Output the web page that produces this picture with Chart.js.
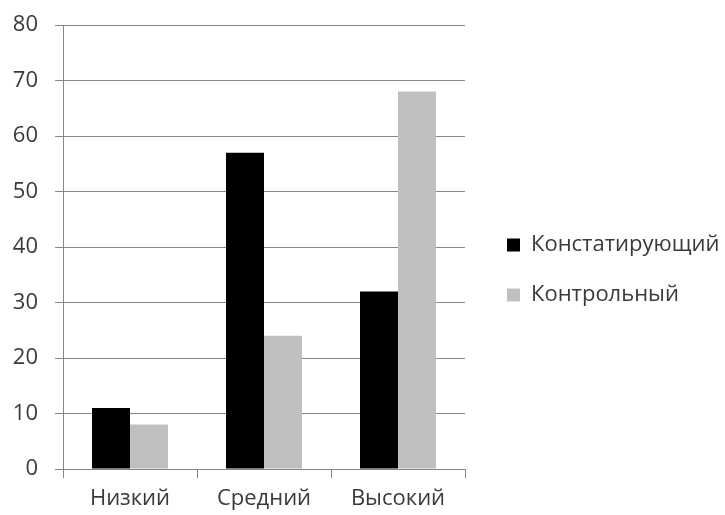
<!DOCTYPE html>
<html lang="ru">
<head>
    <meta charset="UTF-8">
    <title>Chart</title>
    <script src="https://cdn.jsdelivr.net/npm/chart.js"></script>
    <style>
        html, body {
            margin: 0;
            padding: 0;
            background: #ffffff;
        }
        .wrap {
            width: 725px;
            height: 515px;
        }
    </style>
</head>
<body>
    <div class="wrap">
        <canvas id="chart"></canvas>
    </div>

    <script>
        const categories = ['Низкий', 'Средний', 'Высокий'];
        const seriesNames = ['Констатирующий', 'Контрольный'];
        const stating = [11, 57, 32];
        const control = [8, 24, 68];
        const yTicks = [0, 10, 20, 30, 40, 50, 60, 70, 80];

        const font = { family: "'Open Sans', sans-serif", size: 22 };
        const gridColor = '#868686';
        const textColor = '#3a3a3a';

        // Chart.js caps a side legend at a quarter of the width here, which
        // cuts the long label off. Give it a fixed width and push the items right.
        const legendWidth = 260;
        const legendShift = 14;
        const wideLegend = {
            id: 'wideLegend',
            beforeLayout(chart) {
                const lg = chart.legend;
                if (!lg || lg._wide) return;
                const fit = lg.fit.bind(lg);
                lg.fit = function () {
                    fit();
                    this.width = legendWidth;
                };
                lg._wide = true;
            },
            afterLayout(chart) {
                const lg = chart.legend;
                if (lg) {
                    lg.left += legendShift;
                    lg.right += legendShift;
                }
            }
        };

        function drawChart() {
            new Chart(document.getElementById('chart'), {
                type: 'bar',
                data: {
                    labels: categories,
                    datasets: [
                        { label: seriesNames[0], data: stating, backgroundColor: '#000000' },
                        { label: seriesNames[1], data: control, backgroundColor: '#bfbfbf' }
                    ]
                },
                plugins: [wideLegend],
                options: {
                    responsive: true,
                    maintainAspectRatio: false,
                    animation: false,
                    datasets: {
                        bar: { categoryPercentage: 0.567, barPercentage: 1.0 }
                    },
                    layout: { padding: { top: 25, right: 0, bottom: 0, left: 0 } },
                    plugins: {
                        tooltip: { enabled: false },
                        legend: {
                            position: 'right',
                            labels: {
                                font: font,
                                color: textColor,
                                boxWidth: 13,
                                boxHeight: 13,
                                padding: 28
                            }
                        }
                    },
                    scales: {
                        x: {
                            afterFit: s => { s.height = 46; },
                            grid: {
                                drawOnChartArea: false,
                                drawTicks: true,
                                tickLength: 9,
                                color: gridColor
                            },
                            border: { color: gridColor },
                            ticks: { font: font, color: textColor, padding: 8 }
                        },
                        y: {
                            min: 0,
                            max: 80,
                            afterFit: s => {
                                s.width = 63;
                                // the label padding would otherwise push the plot top down
                                s.paddingTop = 0;
                                s.paddingBottom = 0;
                            },
                            afterBuildTicks: s => { s.ticks = yTicks.map(v => ({ value: v })); },
                            grid: { color: gridColor, tickLength: 8 },
                            border: { color: gridColor },
                            ticks: { font: font, color: textColor, padding: 17 }
                        }
                    }
                }
            });
        }

        document.fonts.load("22px 'Open Sans'", 'Констатирующий')
            .then(drawChart, drawChart);
    </script>
</body>
</html>
